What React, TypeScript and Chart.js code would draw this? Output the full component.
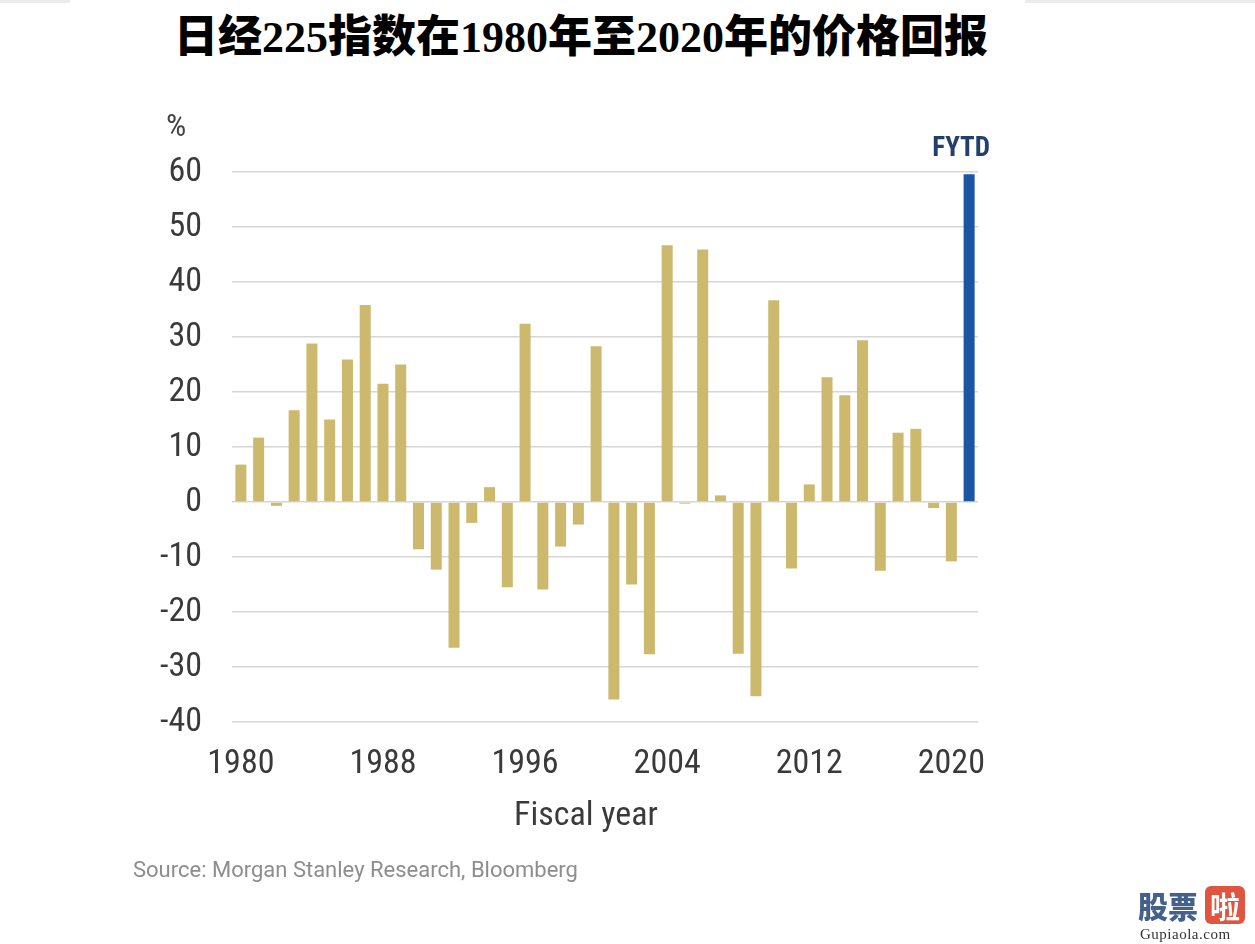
import React, { useEffect, useRef } from "react";
import { Chart, registerables } from "chart.js";

Chart.register(...registerables);

const categories = [
  "1980", "1981", "1982", "1983", "1984", "1985", "1986", "1987", "1988", "1989",
  "1990", "1991", "1992", "1993", "1994", "1995", "1996", "1997", "1998", "1999",
  "2000", "2001", "2002", "2003", "2004", "2005", "2006", "2007", "2008", "2009",
  "2010", "2011", "2012", "2013", "2014", "2015", "2016", "2017", "2018", "2019",
  "2020", "FYTD",
];

const priceReturns = [
  6.8, 11.7, -0.7, 16.7, 28.8, 15.0, 25.9, 35.8, 21.5, 25.0,
  -8.6, -12.3, -26.5, -3.8, 2.7, -15.5, 32.4, -15.9, -8.1, -4.1,
  28.3, -35.9, -15.0, -27.7, 46.7, -0.3, 45.9, 1.2, -27.6, -35.3,
  36.7, -12.1, 3.2, 22.7, 19.4, 29.4, -12.5, 12.6, 13.3, -1.1,
  -10.8, 59.6,
];

const xTickLabels = ["1980", "1988", "1996", "2004", "2012", "2020"];
const yMin = -40;
const yMax = 60;
const yStep = 10;

const GOLD = "#cdb96d";
const BLUE = "#1b56a5";
const NARROW = "'Liberation Sans Narrow', 'Roboto Condensed', 'DejaVu Sans Condensed', 'Roboto', sans-serif";

export default function App() {
  const ref = useRef<HTMLCanvasElement>(null);

  useEffect(() => {
    const fytdPlugin = {
      id: "fytdLabel",
      afterDatasetsDraw(chart: any) {
        const ctx = chart.ctx;
        const i = categories.length - 1;
        const x = chart.scales.x.getPixelForValue(i);
        const y = chart.scales.y.getPixelForValue(priceReturns[i]);
        ctx.save();
        ctx.font = `bold 27px ${NARROW}`;
        ctx.fillStyle = "#23406d";
        ctx.textAlign = "center";
        ctx.textBaseline = "bottom";
        ctx.fillText("FYTD", x - 8, y - 11);
        ctx.restore();
      },
    };

    const chart = new Chart(ref.current as HTMLCanvasElement, {
      type: "bar",
      data: {
        labels: categories,
        datasets: [
          {
            data: priceReturns,
            backgroundColor: categories.map((c) => (c === "FYTD" ? BLUE : GOLD)),
            barPercentage: 0.62,
            categoryPercentage: 1,
          },
        ],
      },
      options: {
        responsive: false,
        animation: false,
        layout: { padding: { left: 0, right: 277, top: 172, bottom: 162 } },
        plugins: { legend: { display: false }, tooltip: { enabled: false } },
        scales: {
          x: {
            grid: { display: false, drawTicks: false },
            border: { display: false },
            ticks: {
              autoSkip: false,
              maxRotation: 0,
              minRotation: 0,
              padding: 22,
              color: "#3a3a3a",
              font: { family: NARROW, size: 34 },
              callback: (_v: any, i: number) =>
                xTickLabels.includes(categories[i]) ? categories[i] : "",
            },
            afterFit: (s: any) => {
              s.height = 60;
            },
          },
          y: {
            min: yMin,
            max: yMax,
            grid: { color: "#d6d6d6", lineWidth: 1.5, drawTicks: false },
            border: { display: false },
            ticks: {
              stepSize: yStep,
              padding: 30,
              color: "#3a3a3a",
              font: { family: NARROW, size: 34 },
            },
            afterFit: (s: any) => {
              s.width = 232;
            },
          },
        },
      },
      plugins: [fytdPlugin],
    });
    return () => chart.destroy();
  }, []);

  return (
    <div
      style={{
        position: "fixed",
        left: 0,
        top: 0,
        width: 1255,
        height: 944,
        background: "#ffffff",
        overflow: "hidden",
      }}
    >
      <div style={{ position: "absolute", left: 0, top: 0, width: 70, height: 3, background: "#ececec" }} />
      <div style={{ position: "absolute", left: 1025, top: 0, width: 230, height: 3, background: "#ececec" }} />
      <div
        style={{
          position: "absolute",
          left: 81,
          top: 16,
          width: 1000,
          textAlign: "center",
          fontFamily: "'Liberation Serif', 'Noto Sans CJK SC', serif",
          fontWeight: 900,
          fontSize: 44,
          lineHeight: "44px",
          color: "#000",
          whiteSpace: "nowrap",
        }}
      >
        日经225指数在1980年至2020年的价格回报
      </div>
      <canvas
        ref={ref}
        width={1255}
        height={944}
        style={{ position: "absolute", left: 0, top: 0, width: 1255, height: 944 }}
      />
      <div
        style={{
          position: "absolute",
          left: 166,
          top: 109,
          fontFamily: NARROW,
          fontSize: 32,
          lineHeight: "32px",
          color: "#444",
        }}
      >
        %
      </div>
      <div
        style={{
          position: "absolute",
          left: 486,
          top: 796,
          width: 200,
          textAlign: "center",
          fontFamily: NARROW,
          fontSize: 34,
          lineHeight: "34px",
          color: "#3a3a3a",
        }}
      >
        Fiscal year
      </div>
      <div
        style={{
          position: "absolute",
          left: 133,
          top: 859,
          fontFamily: "'Roboto', sans-serif",
          fontSize: 22,
          lineHeight: "22px",
          color: "#8d8d8d",
          whiteSpace: "nowrap",
        }}
      >
        Source: Morgan Stanley Research, Bloomberg
      </div>
      <div style={{ position: "absolute", left: 1138, top: 886, fontFamily: "'Noto Sans CJK SC', sans-serif", fontWeight: 900, fontSize: 30, lineHeight: "38px", color: "#44618c" }}>
        股票
      </div>
      <div
        style={{
          position: "absolute",
          left: 1205,
          top: 886,
          width: 40,
          height: 38,
          borderRadius: 6,
          background: "#e0553f",
          color: "#fff",
          fontFamily: "'Noto Sans CJK SC', sans-serif",
          fontWeight: 700,
          fontSize: 30,
          lineHeight: "38px",
          textAlign: "center",
        }}
      >
        啦
      </div>
      <div
        style={{
          position: "absolute",
          left: 1140,
          top: 926,
          fontFamily: "'Liberation Serif', serif",
          fontSize: 15,
          lineHeight: "16px",
          letterSpacing: 0.5,
          color: "#333",
        }}
      >
        Gupiaola.com
      </div>
    </div>
  );
}
